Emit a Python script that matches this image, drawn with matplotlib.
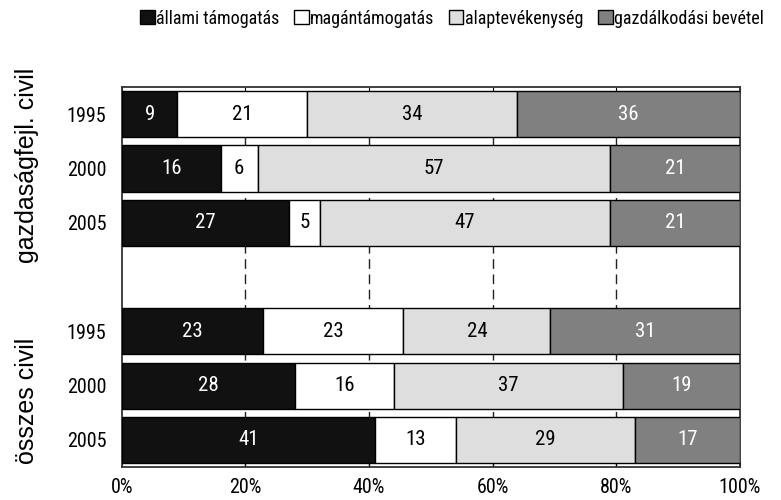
import numpy as np
import matplotlib
matplotlib.use('Agg')
import matplotlib.pyplot as plt
from matplotlib.patches import Patch

plt.rcParams['font.family'] = ['Roboto Condensed', 'Liberation Sans', 'DejaVu Sans']

# data: one row per bar, top to bottom (None = empty gap row)
years      = ['1995', '2000', '2005', '', '1995', '2000', '2005']
allami     = [9, 16, 27, None, 23, 28, 41]
magan      = [21, 6, 5, None, 23, 16, 13]
alap       = [34, 57, 47, None, 24, 37, 29]
gazdalk    = [36, 21, 21, None, 31, 19, 17]
series_names  = ['állami támogatás', 'magántámogatás', 'alaptevékenység', 'gazdálkodási bevétel']
group_names   = ['gazdaságfejl. civil', 'összes civil']

colors      = ['#111111', '#ffffff', '#dedede', '#808080']
text_colors = ['white', 'black', 'black', 'white']

fig = plt.figure(figsize=(7.81, 5.0), dpi=100)
ax = fig.add_axes([0.156, 0.066, 0.7915, 0.76])

series = [allami, magan, alap, gazdalk]
for i in range(len(years)):
    if allami[i] is None:
        continue
    vals = np.array([s[i] for s in series], dtype=float)
    shares = vals / vals.sum() * 100   # 100% stacked
    left = 0
    for k in range(4):
        ax.barh(i, shares[k], left=left, height=0.85, color=colors[k],
                edgecolor='black', linewidth=1, zorder=3)
        ax.text(left + shares[k] / 2, i, str(int(vals[k])), ha='center', va='center',
                color=text_colors[k], fontsize=15, zorder=4)
        left += shares[k]

ax.set_xlim(0, 100)
ax.set_ylim(6.5, -0.5)
ax.set_yticks(range(len(years)))
ax.set_yticklabels(years, fontsize=14.5)
ax.tick_params(axis='y', length=0, pad=11)
ax.set_xticks(np.arange(0, 101, 20))
ax.set_xticklabels([f'{t}%' for t in range(0, 101, 20)], fontsize=14.5)
ax.tick_params(axis='x', direction='in', length=4, top=True, pad=8)
for x in [20, 40, 60, 80]:
    ax.axvline(x, color='#222222', linestyle=(0, (7, 4)), linewidth=1, zorder=1)
for sp in ax.spines.values():
    sp.set_linewidth(1.3)
    sp.set_color('#333333')

# group labels (regular width font in the original)
ax.text(-0.154, 0.795, group_names[0], transform=ax.transAxes, rotation=90,
        ha='center', va='center', fontsize=18, family='Liberation Sans')
ax.text(-0.154, 0.174, group_names[1], transform=ax.transAxes, rotation=90,
        ha='center', va='center', fontsize=18, family='Liberation Sans')

handles = [Patch(facecolor=c, edgecolor='black', linewidth=1) for c in colors]
fig.legend(handles, series_names, loc='center', bbox_to_anchor=(0.579, 0.963), ncol=4,
           frameon=False, fontsize=13, handlelength=0.8, handleheight=0.8,
           handletextpad=0.1, columnspacing=0.8, borderaxespad=0)

fig.savefig('out.png', dpi=100)
